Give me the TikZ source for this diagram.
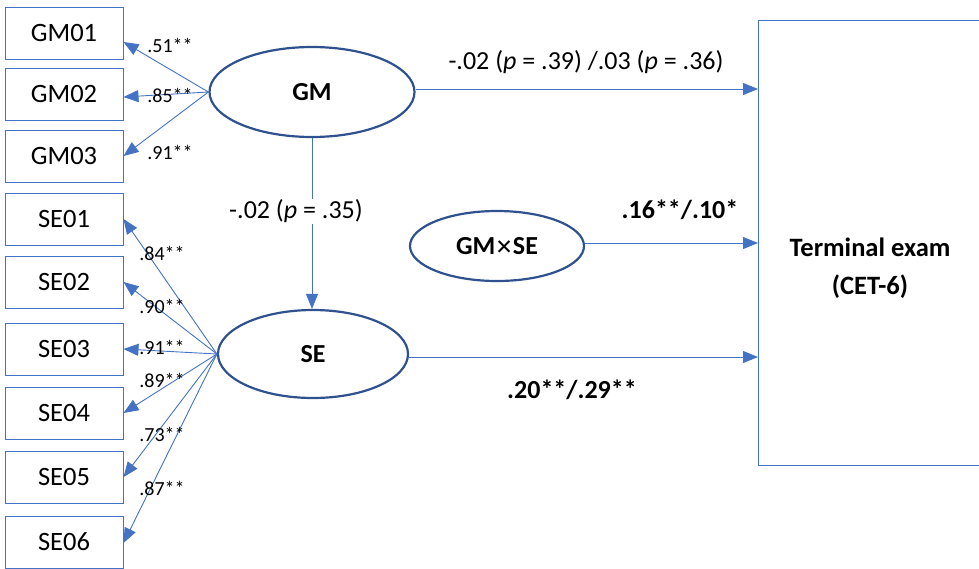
\documentclass[tikz,border=0pt]{standalone}
\usepackage{fontspec}
\setmainfont{Carlito}
\usetikzlibrary{arrows.meta,shapes.geometric}
\definecolor{ob}{RGB}{68, 114, 196}
\definecolor{od}{RGB}{47, 82, 143}

\begin{document}
\begin{tikzpicture}[
  indbox/.style={rectangle, draw=ob, line width=1pt, minimum width=118pt, minimum height=52pt, inner sep=0pt, font=\fontsize{26.5}{31}\selectfont},
  latent/.style={ellipse, draw=od, line width=2.2pt, inner sep=0pt, font=\bfseries\fontsize{26}{31}\selectfont},
  conn/.style={draw=ob, line width=0.9pt, -{Triangle[length=15pt,width=12pt]}},
  coef/.style={inner sep=0pt, font=\fontsize{20}{24}\selectfont},
  pathlab/.style={inner sep=1pt, font=\fontsize{26}{31}\selectfont},
  boldlab/.style={inner sep=0pt, font=\bfseries\fontsize{26}{31}\selectfont}]
\useasboundingbox (0pt, 0pt) rectangle (979pt, -568pt);
\clip (0pt, 0pt) rectangle (979pt, -568pt);
% indicators
\node (gm01) [indbox] at (64pt, -33pt) {GM01};
\node (gm02) [indbox] at (64pt, -94pt) {GM02};
\node (gm03) [indbox] at (64pt, -156pt) {GM03};
\node (se01) [indbox] at (64pt, -219pt) {SE01};
\node (se02) [indbox] at (64pt, -282pt) {SE02};
\node (se03) [indbox] at (64pt, -349pt) {SE03};
\node (se04) [indbox] at (64pt, -413pt) {SE04};
\node (se05) [indbox] at (64pt, -477pt) {SE05};
\node (se06) [indbox] at (64pt, -542pt) {SE06};
% latent variables
\node (gm) [latent, minimum width=205pt, minimum height=90pt] at (312pt, -92pt) {GM};
\node (se) [latent, minimum width=190pt, minimum height=88pt] at (313pt, -354pt) {SE};
\node (gmse) [latent, minimum width=174pt, minimum height=70pt] at (497pt, -246pt) {GM{\fontspec{DejaVu Sans}\fontsize{21}{24}\selectfont ✕}SE};
% outcome
\node (exam) [rectangle, draw=ob, line width=1pt, minimum width=260pt, minimum height=445pt, anchor=north west] at (758pt, -20pt) {};
\node (examtext) [align=center, font=\bfseries\fontsize{26.5}{38}\selectfont] at (870pt, -268pt) {Terminal exam\\(CET-6)};
% loadings
\draw [conn] (gm.west) to ([yshift=-9pt]gm01.east);
\draw [conn] (gm.west) to ([yshift=-3pt]gm02.east);
\draw [conn] (gm.west) to (gm03.east);
\draw [conn] (se.west) to (se01.east);
\draw [conn] (se.west) to (se02.east);
\draw [conn] (se.west) to (se03.east);
\draw [conn] (se.west) to (se04.east);
\draw [conn] (se.west) to (se05.east);
\draw [conn] (se.west) to ([yshift=-1pt]se06.east);
\node (l1) [coef] at (170pt, -45pt) {.51**};
\node (l2) [coef] at (170pt, -95pt) {.85**};
\node (l3) [coef] at (170pt, -152pt) {.91**};
\node (l4) [coef] at (162pt, -253pt) {.84**};
\node (l5) [coef] at (162pt, -306pt) {.90**};
\node (l6) [coef] at (162pt, -347pt) {.91**};
\node (l7) [coef] at (162pt, -380pt) {.89**};
\node (l8) [coef] at (162pt, -434pt) {.73**};
\node (l9) [coef] at (162pt, -488pt) {.87**};
% structural paths
\draw [conn] (gm.south) to node [pathlab, fill=white, pos=0.43, xshift=-16pt] {-.02 (\textit{p} = .35)} (gm.south |- se.north);
\draw [conn] ([yshift=3pt]gm.east) to ([yshift=3pt]gm.east -| exam.west);
\draw [conn] ([yshift=3pt]gmse.east) to ([yshift=3pt]gmse.east -| exam.west);
\draw [conn] ([yshift=-3pt]se.east) to ([yshift=-3pt]se.east -| exam.west);
\node (c1) [pathlab] at (586pt, -62pt) {-.02 (\textit{p} = .39) /.03 (\textit{p} = .36)};
\node (c2) [boldlab] at (680pt, -210pt) {.16**/.10*};
\node (c3) [boldlab] at (572pt, -390pt) {.20**/.29**};
\end{tikzpicture}
\end{document}
